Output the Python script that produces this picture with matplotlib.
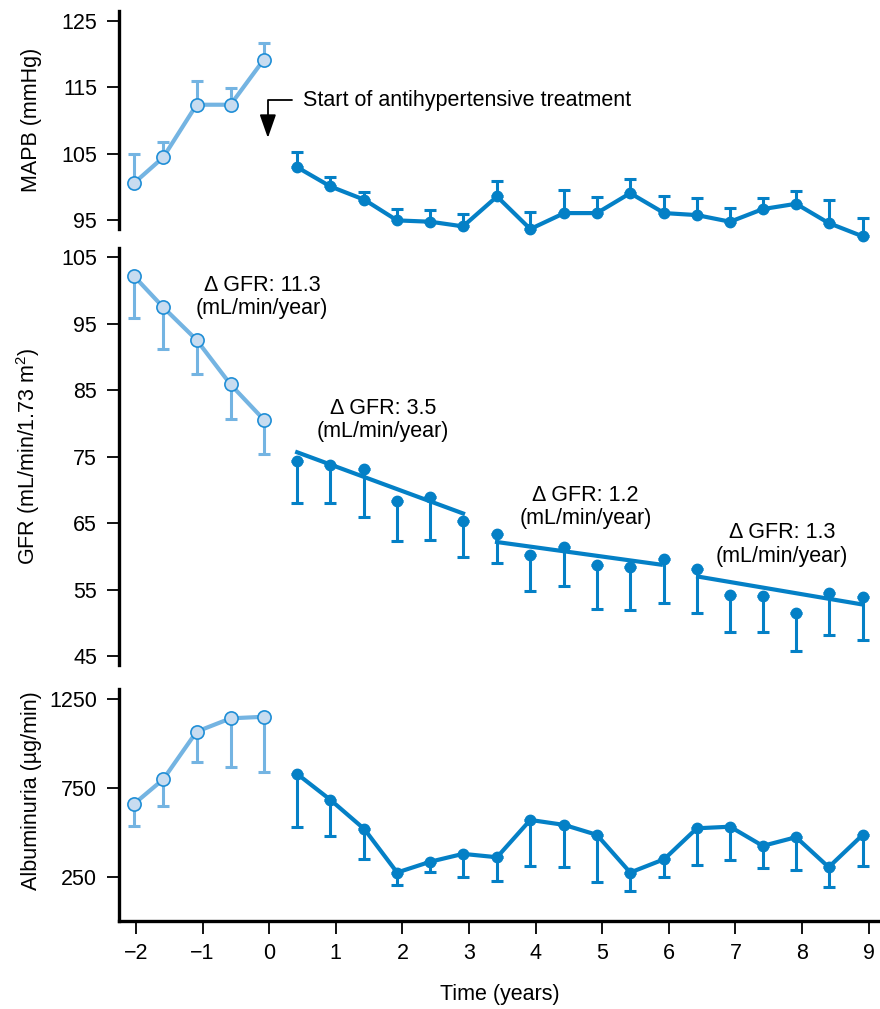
import numpy as np
import matplotlib.pyplot as plt

plt.rcParams['font.family'] = 'Liberation Sans'
plt.rcParams['mathtext.fontset'] = 'custom'
plt.rcParams['mathtext.rm'] = 'Liberation Sans'

#Time points (years) before and after start of treatment
time_pre = [-2.03, -1.59, -1.09, -0.58, -0.08]
time_post = [0.42, 0.92, 1.43, 1.92, 2.42, 2.91, 3.42, 3.92, 4.43, 4.92,
             5.42, 5.93, 6.42, 6.92, 7.41, 7.91, 8.40, 8.91]

#MAPB (mmHg), upper error bars
mapb_pre = [100.6, 104.5, 112.4, 112.4, 119.2]
mapb_pre_err = [4.4, 2.3, 3.6, 2.5, 2.5]
mapb_post = [103.0, 100.1, 98.1, 95.0, 94.8, 94.1, 98.6, 93.7, 96.1, 96.1,
             99.1, 96.1, 95.8, 94.8, 96.7, 97.5, 94.6, 92.6]
mapb_post_err = [2.3, 1.5, 1.1, 1.7, 1.8, 1.8, 2.3, 2.5, 3.5, 2.4,
                 2.1, 2.5, 2.5, 2.1, 1.6, 1.9, 3.4, 2.7]

#GFR (mL/min/1.73 m2), lower error bars
gfr_pre = [102.2, 97.5, 92.6, 85.9, 80.6]
gfr_pre_err = [6.3, 6.3, 5.2, 5.2, 5.2]
gfr_post = [74.4, 73.8, 73.2, 68.4, 69.0, 65.3, 63.4, 60.3, 61.4, 58.7,
            58.5, 59.6, 58.1, 54.2, 54.1, 51.6, 54.6, 53.9]
gfr_post_err = [6.3, 5.7, 7.2, 6.0, 6.5, 5.4, 4.4, 5.4, 5.8, 6.5,
                6.5, 6.6, 6.5, 5.6, 5.5, 5.8, 6.4, 6.5]

#GFR trend segments: start/end time and start/end value
trend_x = [[0.42, 2.91], [3.42, 5.88], [6.44, 8.91]]
trend_y = [[75.7, 66.5], [62.2, 58.8], [57.0, 52.8]]
trend_labels = ['\u0394 GFR: 11.3', '\u0394 GFR: 3.5', '\u0394 GFR: 1.2', '\u0394 GFR: 1.3']
trend_label_x = [-0.11, 1.71, 4.75, 7.70]
trend_label_y = [99.1, 80.6, 67.5, 61.8]

#Albuminuria (ug/min), lower error bars
alb_pre = [659, 798, 1066, 1141, 1150]
alb_pre_err = [124, 150, 169, 275, 309]
alb_post = [828, 682, 517, 273, 334, 378, 359, 569, 541, 485,
            273, 348, 522, 531, 423, 472, 303, 485]
alb_post_err = [297, 203, 169, 70, 59, 128, 131, 259, 235, 265,
                102, 101, 206, 187, 126, 184, 109, 173]

light = '#74b4e2'
light_fill = '#c8dcf0'
light_edge = '#1f8ed6'
dark = '#0480c6'
fs = 15.5

def styleAxis(ax, ylim, yticks, ylabel, label_y):
    ax.set_xlim(-2.25, 9.17)
    ax.set_ylim(ylim)
    ax.set_yticks(yticks)
    for s in ['top', 'right']:
        ax.spines[s].set_visible(False)
    ax.spines['left'].set_linewidth(2.4)
    ax.spines['bottom'].set_linewidth(2.4)
    ax.tick_params(axis='y', direction='out', length=9, width=1.3, labelsize=fs, pad=7)
    ax.set_ylabel(ylabel, fontsize=fs)
    ax.yaxis.set_label_coords(-0.102, label_y)

def plotSeries(ax, x, vals, errs, upper, pre, line=True):
    zeros = np.zeros(len(errs))
    yerr = [zeros, errs] if upper else [errs, zeros]
    col = light if pre else dark
    ax.errorbar(x, vals, yerr=yerr, fmt='none', ecolor=col, elinewidth=2.2,
                capsize=4.5, capthick=2.2, zorder=2, clip_on=False)
    if line:
        ax.plot(x, vals, color=col, lw=3, zorder=3, clip_on=False)
    if pre:
        ax.plot(x, vals, 'o', ms=9.5, mfc=light_fill, mec=light_edge, mew=1.2, zorder=4, clip_on=False)
    else:
        ax.plot(x, vals, 'o', ms=7.5, color=dark, zorder=4, clip_on=False)

fig = plt.figure(figsize=(8.8, 10.09), dpi=100)
axTop = fig.add_axes([0.1356, 0.7730, 0.8644, 0.2161])
axMid = fig.add_axes([0.1356, 0.3409, 0.8644, 0.4138])
axBot = fig.add_axes([0.1356, 0.0872, 0.8644, 0.2299])

#MAPB panel
styleAxis(axTop, (93.7, 126.5), [95, 105, 115, 125], 'MAPB (mmHg)', 0.5)
plotSeries(axTop, time_pre, mapb_pre, mapb_pre_err, True, True)
plotSeries(axTop, time_post, mapb_post, mapb_post_err, True, False)
axTop.annotate('Start of antihypertensive treatment', xy=(-0.02, 107.4), xytext=(0.51, 113.1),
               fontsize=fs, va='center', ha='left',
               arrowprops=dict(arrowstyle='-|>,head_length=0.8,head_width=0.28',
                               connectionstyle='angle,angleA=0,angleB=90,rad=0',
                               color='black', lw=1.3, relpos=(0, 0.5),
                               shrinkA=6, shrinkB=0, mutation_scale=18))

#GFR panel
styleAxis(axMid, (43.7, 106.5), [45, 55, 65, 75, 85, 95, 105],
          r'GFR (mL/min/1.73 m$^\mathregular{2}$)', 0.5)
plotSeries(axMid, time_pre, gfr_pre, gfr_pre_err, False, True)
plotSeries(axMid, time_post, gfr_post, gfr_post_err, False, False, line=False)
for tx, ty in zip(trend_x, trend_y):
    axMid.plot(tx, ty, color=dark, lw=3, zorder=3)
for lab, lx, ly in zip(trend_labels, trend_label_x, trend_label_y):
    axMid.text(lx, ly, lab + '\n(mL/min/year)', fontsize=fs, ha='center', va='center',
               linespacing=1.15)

#Albuminuria panel
styleAxis(axBot, (0, 1306), [250, 750, 1250], 'Albuminuria (\u00b5g/min)', 0.56)
plotSeries(axBot, time_pre, alb_pre, alb_pre_err, False, True)
plotSeries(axBot, time_post, alb_post, alb_post_err, False, False)

for ax in [axTop, axMid]:
    ax.spines['bottom'].set_visible(False)
    ax.set_xticks([])

axBot.set_xticks(range(-2, 10))
axBot.tick_params(axis='x', direction='out', length=9, width=1.3, labelsize=fs, pad=7)
axBot.set_xlabel('Time (years)', fontsize=fs, labelpad=14)

plt.savefig('out.png', dpi=100)
plt.close()
